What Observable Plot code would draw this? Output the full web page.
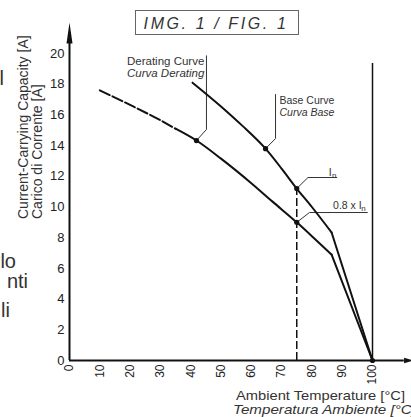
<!DOCTYPE html>
<html>
<head>
<meta charset="utf-8">
<script src="https://cdn.jsdelivr.net/npm/d3@7"></script>
<script src="https://cdn.jsdelivr.net/npm/@observablehq/plot@0.6"></script>
<style>
  html, body { margin: 0; padding: 0; background: #fff; }
  #chart { position: relative; width: 411px; height: 417px; overflow: hidden; }
  svg { font-family: "Liberation Sans", Arial, sans-serif; }
</style>
</head>
<body>
<div id="chart"></div>
<script>
// ---- data ----
const xTicks = [0, 10, 20, 30, 40, 50, 60, 70, 80, 90, 100];
const yTicks = [0, 2, 4, 6, 8, 10, 12, 14, 16, 18, 20];

// Base curve (Curva Base)
const baseTemp    = [40.6, 50, 57, 64.7, 70, 75, 80, 86.5];
const baseCurrent = [18.1, 16.55, 15.3, 13.8, 12.5, 11.2, 10.0, 8.34];
// Derating curve (Curva Derating)
const derTemp    = [10, 20, 30, 35, 41.9, 50, 60, 67, 75, 80, 86.5];
const derCurrent = [17.6, 16.65, 15.65, 15.1, 14.33, 13.15, 11.55, 10.35, 9.0, 8.1, 6.9];
const dashedUntil = 35;
// end point of both curves
const endTemp = 100, endCurrent = 0;
// limit line at 100 °C
const limitTemp = 100, limitTop = 19.35;
// nominal temperature
const nominalTemp = 75, inCurrent = 11.2, in08Current = 9.0;
// marked points
const markTemp    = [41.9, 64.7, 75, 75, 100];
const markCurrent = [14.33, 13.8, 11.2, 9.0, 0];
// leader lines (data coords)
const leaders = [
  {name: "derating", x: [41.9, 45.2, 45.2], y: [14.33, 15.05, 19.85]},
  {name: "base",     x: [64.7, 68.0, 68.0], y: [13.8, 14.46, 17.33]},
  {name: "In",       x: [75, 78.7, 88.2],   y: [11.2, 11.92, 11.92]},
  {name: "0.8In",    x: [75, 79.2, 98.3],   y: [9.0, 9.64, 9.64]}
];
// axis extents
const xAxisEnd = 110.5, yAxisEnd = 20.9;

const base = baseTemp.map((t, i) => ({t, c: baseCurrent[i]}));
const der = derTemp.map((t, i) => ({t, c: derCurrent[i]}));
const derDashed = der.filter(d => d.t <= dashedUntil);
const derSolid = der.filter(d => d.t >= dashedUntil);
const baseTail = [base[base.length - 1], {t: endTemp, c: endCurrent}];
const derTail = [der[der.length - 1], {t: endTemp, c: endCurrent}];
const marks = markTemp.map((t, i) => ({t, c: markCurrent[i]}));
const leaderPts = leaders.flatMap(l => l.x.map((x, i) => ({name: l.name, x, y: l.y[i]})));

const yArrow = {draw(ctx) { ctx.moveTo(0, -11); ctx.lineTo(3, 10); ctx.lineTo(-3, 10); ctx.closePath(); }};
const xArrow = {draw(ctx) { ctx.moveTo(4.5, 0); ctx.lineTo(-4.5, -2.8); ctx.lineTo(-4.5, 2.8); ctx.closePath(); }};

const ink = "#111";
const plot = Plot.plot({
  width: 411,
  height: 417,
  marginLeft: 69,
  marginRight: 39,
  marginTop: 53,
  marginBottom: 57,
  style: {fontFamily: '"Liberation Sans", Arial, sans-serif', background: "#fff", color: "#111"},
  x: {domain: [0, 100]},
  y: {domain: [0, 20]},
  marks: [
    Plot.axisY({ticks: yTicks, tickSize: 0, tickPadding: 5, label: null, fontSize: 13, fill: "#222"}),
    Plot.axisX({ticks: xTicks, tickSize: 0, tickPadding: 4, tickRotate: -90, label: null, fontSize: 12, fill: "#222"}),
    // axes lines
    Plot.ruleX([0], {y1: 0, y2: yAxisEnd, stroke: ink, strokeWidth: 2}),
    Plot.ruleY([0], {x1: 0, x2: xAxisEnd, stroke: ink, strokeWidth: 2}),
    Plot.dot([{x: 0, y: 21.3}], {x: "x", y: "y", symbol: yArrow, fill: ink, stroke: "none"}),
    Plot.dot([{x: 111.9, y: 0}], {x: "x", y: "y", symbol: xArrow, fill: ink, stroke: "none"}),
    // limit line
    Plot.ruleX([limitTemp], {y1: 0, y2: limitTop, stroke: ink, strokeWidth: 1.5}),
    // nominal dashed line
    Plot.ruleX([nominalTemp], {y1: 0, y2: inCurrent, stroke: ink, strokeWidth: 1.5, strokeDasharray: "8,3"}),
    // leaders
    Plot.line(leaderPts, {x: "x", y: "y", z: "name", stroke: "#333", strokeWidth: 1}),
    // curves
    Plot.line(base, {x: "t", y: "c", stroke: ink, strokeWidth: 2, curve: "monotone-x"}),
    Plot.line(baseTail, {x: "t", y: "c", stroke: ink, strokeWidth: 2}),
    Plot.line(derDashed, {x: "t", y: "c", stroke: ink, strokeWidth: 2, curve: "monotone-x", strokeDasharray: "11,3"}),
    Plot.line(derSolid, {x: "t", y: "c", stroke: ink, strokeWidth: 2, curve: "monotone-x"}),
    Plot.line(derTail, {x: "t", y: "c", stroke: ink, strokeWidth: 2}),
    Plot.dot(marks, {x: "t", y: "c", r: 2.6, fill: ink, stroke: "none"}),
    // annotation texts
    Plot.text(["Derating Curve"], {x: 44.5, y: 19.28, text: d => d, textAnchor: "end", fontSize: 11.5, fill: "#333", lineAnchor: "bottom"}),
    Plot.text(["Curva Derating"], {x: 44.5, y: 18.5, text: d => d, textAnchor: "end", fontSize: 11.5, fill: "#333", fontStyle: "italic", lineAnchor: "bottom"}),
    Plot.text(["Base Curve"], {x: 69.3, y: 16.68, text: d => d, textAnchor: "start", fontSize: 10.5, fill: "#333", lineAnchor: "bottom"}),
    Plot.text(["Curva Base"], {x: 69.3, y: 15.9, text: d => d, textAnchor: "start", fontSize: 10.5, fill: "#333", fontStyle: "italic", lineAnchor: "bottom"}),
    Plot.text(["I"], {x: 85.6, y: 12.05, text: d => d, textAnchor: "start", fontSize: 10.5, fill: "#333", lineAnchor: "bottom"}),
    Plot.text(["n"], {x: 86.6, y: 11.9, text: d => d, textAnchor: "start", fontSize: 8, fill: "#333", lineAnchor: "bottom"}),
    Plot.text(["0.8 x I"], {x: 87.0, y: 9.87, text: d => d, textAnchor: "start", fontSize: 10.5, fill: "#333", lineAnchor: "bottom"}),
    Plot.text(["n"], {x: 96.3, y: 9.72, text: d => d, textAnchor: "start", fontSize: 8, fill: "#333", lineAnchor: "bottom"})
  ]
});
document.getElementById("chart").appendChild(plot);

const svg = d3.select(plot);
// title box
svg.append("rect").attr("x", 135.5).attr("y", 10.5).attr("width", 163).attr("height", 24)
  .attr("fill", "none").attr("stroke", "#666").attr("stroke-width", 1);
svg.append("text").attr("x", 216).attr("y", 28.5).attr("text-anchor", "middle")
  .attr("font-size", 16).attr("font-style", "italic").attr("letter-spacing", 2.6)
  .attr("fill", "#333").text("IMG. 1 / FIG. 1");
// y axis label
svg.append("text").attr("transform", "translate(28,219) rotate(-90)").attr("text-anchor", "start")
  .attr("font-size", 14).attr("fill", "#333").text("Current-Carrying Capacity [A]");
svg.append("text").attr("transform", "translate(42,219) rotate(-90)").attr("text-anchor", "start")
  .attr("font-size", 14).attr("fill", "#333").text("Carico di Corrente [A]");
// x axis label
svg.append("text").attr("x", 236).attr("y", 400).attr("text-anchor", "start")
  .attr("font-size", 13).attr("textLength", 169).attr("lengthAdjust", "spacingAndGlyphs")
  .attr("fill", "#333").text("Ambient Temperature [°C]");
svg.append("text").attr("x", 233).attr("y", 414).attr("text-anchor", "start")
  .attr("font-size", 13).attr("textLength", 183).attr("lengthAdjust", "spacingAndGlyphs")
  .attr("font-style", "italic").attr("fill", "#333").text("Temperatura Ambiente [°C]");
// text fragments cut at the left page edge
const frags = [["l", 4, 85], ["lo", 16, 268], ["nti", 28, 288], ["li", 10, 317]];
frags.forEach(([t, x, y]) => svg.append("text").attr("x", x).attr("y", y).attr("text-anchor", "end")
  .attr("font-size", 20).attr("fill", "#333").text(t));
</script>
</body>
</html>
